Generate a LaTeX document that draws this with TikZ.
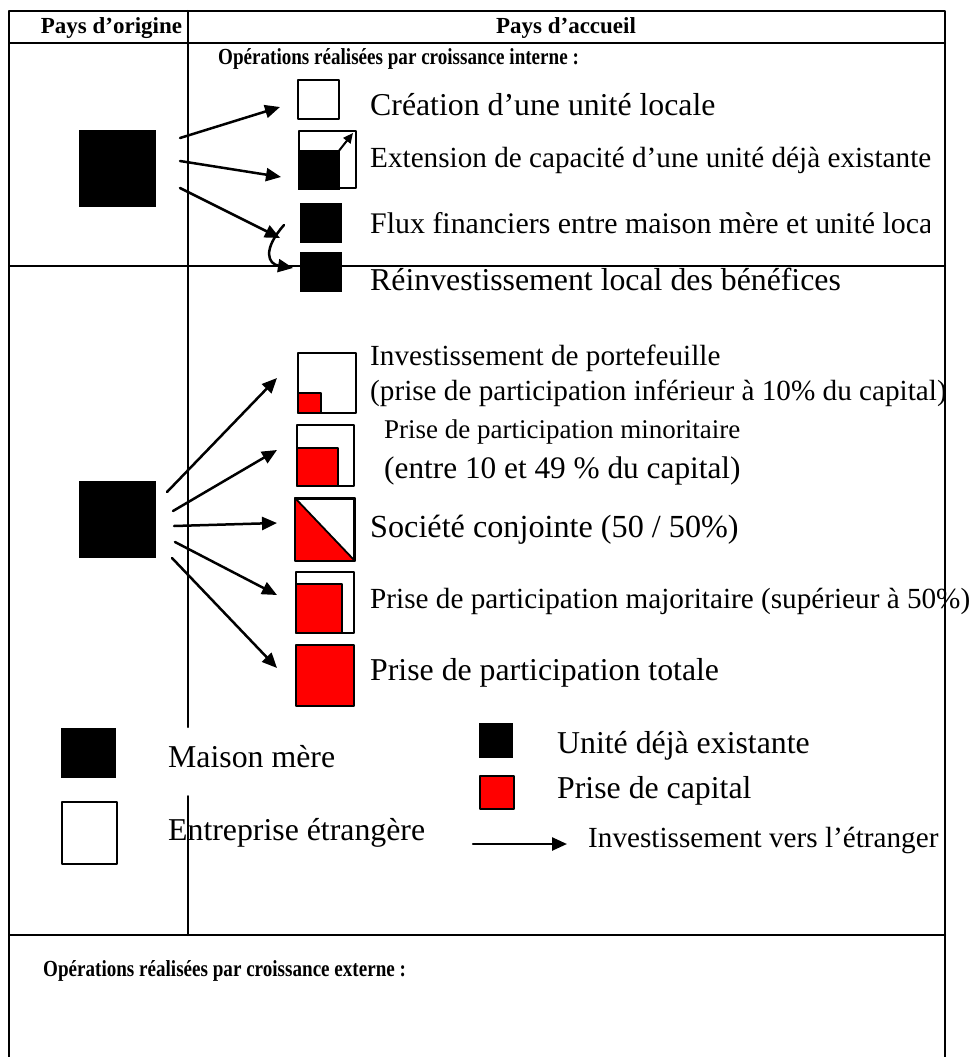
\documentclass[tikz,border=0pt]{standalone}
\usepackage{fontspec}
\setmainfont{Liberation Serif}
\newfontfamily\etroit[FakeStretch=0.83]{Liberation Serif}
\usepackage{tikz}
\usetikzlibrary{arrows.meta}
\definecolor{ffqqqq}{rgb}{1,0,0}
\tikzset{
  trait/.style={line width=2pt},
  titre/.style={inner sep=0pt, anchor=base, font=\bfseries\fontsize{23}{27}\selectfont},
  soustitre/.style={inner sep=0pt, anchor=base west, font=\etroit\bfseries\fontsize{23}{27}\selectfont},
  grand/.style={inner sep=0pt, anchor=base west, font=\fontsize{31.8}{36}\selectfont},
  moyen/.style={inner sep=0pt, anchor=base west, font=\fontsize{29.2}{34}\selectfont},
  blanc/.style={draw=black, fill=white, line width=1.8pt, inner sep=0pt, anchor=north west},
  noir/.style={fill=black, inner sep=0pt, anchor=north west},
  rouge/.style={draw=black, fill=ffqqqq, line width=1.8pt, inner sep=0pt, anchor=north west},
  fleche/.style={->, line width=2.5pt},
}
\begin{document}
\begin{tikzpicture}[line cap=round,line join=round,>={Triangle[length=15pt,width=13pt]},x=1pt,y=-1pt]
\useasboundingbox (0,0) rectangle (973,1057);
% tableau
\draw[trait] (9,1057) -- (9,11) -- (945,11) -- (945,1057);
\draw[trait] (9,43) -- (945,43);
\draw[trait] (9,266) -- (945,266);
\draw[trait] (9,935) -- (945,935);
\draw[trait] (188,11) -- (188,727);
\draw[trait] (188,796) -- (188,935);
\node[titre] (orig) at (111.5,34) {Pays d’origine};
\node[titre] (accu) at (566,34) {Pays d’accueil};
\node[soustitre] (interne) at (218,65) {Opérations réalisées par croissance interne :};
\node[soustitre] (externe) at (43,976) {Opérations réalisées par croissance externe :};
% croissance interne
\node[noir, minimum width=77pt, minimum height=77pt] (mmA) at (79,130) {};
\node[blanc, minimum width=41pt, minimum height=39pt] (crea) at (297,79) {};
\node[blanc, minimum width=57pt, minimum height=57pt] (ext) at (298,130) {};
\node[noir, minimum width=42pt, minimum height=40pt] (extnoir) at (298,150) {};
\node[noir, minimum width=42pt, minimum height=40pt] (flux) at (300,203) {};
\node[noir, minimum width=42pt, minimum height=40pt] (reinv) at (300,252) {};
\node[grand] (tcrea) at (370,115) {Création d’une unité locale};
\node[moyen] (text) at (370,167) {Extension de capacité d’une unité déjà existante};
\begin{scope}
\clip (360,195) rectangle (929,250);
\node[moyen, font=\fontsize{29.9}{35}\selectfont] (tflux) at (370,233) {Flux financiers entre maison mère et unité locale};
\end{scope}
\node[grand] (treinv) at (370,290) {Réinvestissement local des bénéfices};
\coordinate (o1) at (180,138); \coordinate (e1) at (280,107);
\coordinate (o2) at (180,161); \coordinate (e2) at (281,177);
\coordinate (o3) at (180,188); \coordinate (e3) at (280,238);
\coordinate (c1) at (284,225); \coordinate (c2) at (293,268);
\coordinate (x1) at (338,152); \coordinate (x2) at (353,133);
\draw[fleche] (o1) -- (e1);
\draw[fleche] (o2) -- (e2);
\draw[fleche] (o3) -- (e3);
\draw[fleche] (c1) .. controls (262,250) and (268,264) .. (c2);
\draw[->, line width=2pt, >={Triangle[length=10pt,width=9pt]}] (x1) -- (x2);
% croissance externe
\node[noir, minimum width=77pt, minimum height=77pt] (mmB) at (79,481) {};
\node[blanc, minimum width=58pt, minimum height=60pt] (inv) at (297,352) {};
\node[rouge, minimum width=23pt, minimum height=20pt] (invr) at (297,392) {};
\node[blanc, minimum width=57pt, minimum height=61pt] (mino) at (296,424) {};
\node[rouge, minimum width=41pt, minimum height=38pt] (minor) at (296,447) {};
\node[blanc, minimum width=58pt, minimum height=61pt] (conj) at (295,498) {};
\fill[ffqqqq] (conj.north west) -- (conj.south west) -- (conj.south east) -- cycle;
\draw[line width=1.8pt] (conj.north west) rectangle (conj.south east);
\draw[line width=1.8pt] (conj.north west) -- (conj.south east);
\node[blanc, minimum width=58pt, minimum height=61pt] (majo) at (295,571) {};
\node[rouge, minimum width=46pt, minimum height=49pt] (major) at (295,583) {};
\node[rouge, minimum width=58pt, minimum height=61pt] (tota) at (295,644) {};
\node[moyen] (tinv) at (370,365) {Investissement de portefeuille};
\node[moyen] (tinv2) at (370,400) {(prise de participation inférieur à 10\% du capital)};
\node[moyen, font=\fontsize{27}{32}\selectfont] (tmino) at (384,438) {Prise de participation minoritaire};
\begin{scope}
\clip (370,450) rectangle (800,485);
\node[moyen, font=\fontsize{31.3}{36}\selectfont] (tmino2) at (384,478) {(entre 10 et 49 \% du capital)};
\end{scope}
\node[grand, font=\fontsize{32.2}{37}\selectfont] (tconj) at (370,537) {Société conjointe (50 / 50\%)};
\node[moyen] (tmajo) at (370,608) {Prise de participation majoritaire (supérieur à 50\%)};
\node[grand] (ttota) at (370,680) {Prise de participation totale};
\coordinate (p1) at (167,492); \coordinate (f1) at (277,378);
\coordinate (p2) at (173,511); \coordinate (f2) at (277,450);
\coordinate (p3) at (174,526); \coordinate (f3) at (277,523);
\coordinate (p4) at (175,542); \coordinate (f4) at (277,595);
\coordinate (p5) at (172,558); \coordinate (f5) at (277,668);
\foreach \i in {1,...,5}
  \draw[fleche] (p\i) -- (f\i);
% legende
\node[noir, minimum width=55pt, minimum height=50pt] (lmm) at (61,728) {};
\node[blanc, minimum width=55pt, minimum height=62pt] (lent) at (61,801) {};
\node[grand] (tlmm) at (168,767) {Maison mère};
\node[grand] (tlent) at (168,840) {Entreprise étrangère};
\node[noir, minimum width=34pt, minimum height=35pt] (luni) at (479,723) {};
\node[rouge, minimum width=34pt, minimum height=33pt] (lcap) at (479,775) {};
\node[grand] (tluni) at (557,753) {Unité déjà existante};
\node[grand] (tlcap) at (557,798) {Prise de capital};
\coordinate (g1) at (473,844); \coordinate (g2) at (567,844);
\draw[fleche] (g1) -- (g2);
\node[moyen] (tlinv) at (588,847) {Investissement vers l’étranger};
\end{tikzpicture}
\end{document}
